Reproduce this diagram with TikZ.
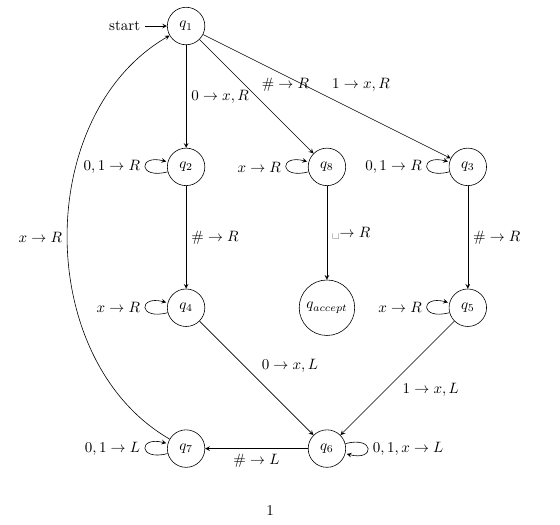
\documentclass[tikz,border=0pt]{standalone}
\usetikzlibrary{positioning}
\begin{document}
\begin{tikzpicture}[>=stealth, node distance=3.3cm, on grid,
		stnode/.style={circle, draw, minimum size=25pt, inner sep=1pt}]
		\useasboundingbox (-4.36,0.61) rectangle (8.76,-11.67);
		% states
		\node[stnode] (q1) at (0,0) {$q_1$};
		\node[stnode, below=of q1] (q2) {$q_2$};
		\node[stnode, right=of q2] (q8) {$q_8$};
		\node[stnode, right=of q8] (q3) {$q_3$};
		\node[stnode, below=of q2] (q4) {$q_4$};
		\node[stnode, minimum size=37pt, below=of q8] (qacc) {$q_{accept}$};
		\node[stnode, below=of q3] (q5) {$q_5$};
		\node[stnode, below=of q4] (q7) {$q_7$};
		\node[stnode, right=of q7] (q6) {$q_6$};
		\node (start) at (-1.44,0) {start};
		% transitions
		\draw[->] (start) -- (q1);
		\draw[->] (q1) -- node[right] {$0\to x,R$} (q2);
		\draw[->] (q1) -- node[above right] {$\#\to R$} (q8);
		\draw[->] (q1) -- node[above right] {$1\to x,R$} (q3);
		\draw[->] (q2) -- node[right] {$\#\to R$} (q4);
		\draw[->] (q8) -- node[right] {\textvisiblespace$\to R$} (qacc);
		\draw[->] (q3) -- node[right] {$\#\to R$} (q5);
		\draw[->] (q4) -- node[above right] {$0\to x,L$} (q6);
		\draw[->] (q5) -- node[below right] {$1\to x,L$} (q6);
		\draw[->] (q6) -- node[below] {$\#\to L$} (q7);
		\draw[->] (q7) to[bend left=60] node[left] {$x\to R$} (q1);
		% self loops
		\draw[->] (q2) edge[loop left] node {$0,1\to R$} ();
		\draw[->] (q8) edge[loop left] node {$x\to R$} ();
		\draw[->] (q3) edge[loop left] node {$0,1\to R$} ();
		\draw[->] (q4) edge[loop left] node {$x\to R$} ();
		\draw[->] (q5) edge[loop left] node {$x\to R$} ();
		\draw[->] (q7) edge[loop left] node {$0,1\to L$} ();
		\draw[->] (q6) edge[loop right] node {$0,1,x\to L$} ();
		\node (pnum) at (1.97,-11.34) {1};
	\end{tikzpicture}
\end{document}
